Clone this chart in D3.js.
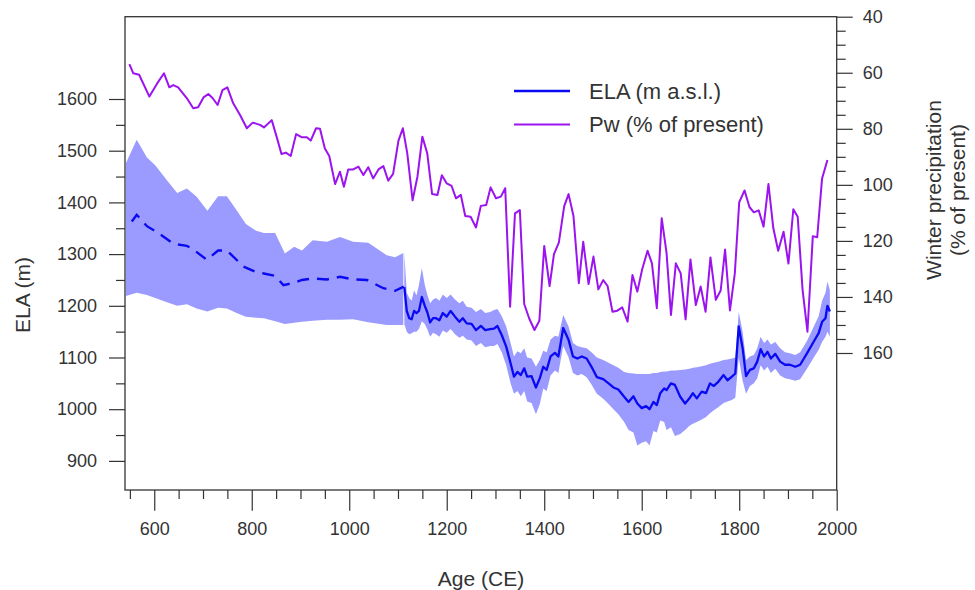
<!DOCTYPE html>
<html>
<head>
<meta charset="utf-8">
<script src="https://cdn.jsdelivr.net/npm/d3@7"></script>
<style>
  body { margin: 0; background: #fff; }
  svg { display: block; font-family: "Liberation Sans", Arial, sans-serif; }
  .axis path { display: none; }
  .axis line { stroke: #333; stroke-width: 1.2; }
  .axis text { fill: #333; font-size: 18px; }
  .title { fill: #333; font-size: 21px; }
  .legend text { fill: #333; font-size: 22px; }
</style>
</head>
<body>
<svg id="chart" width="975" height="590"></svg>
<script>
// Early reconstruction (dashed line + envelope), CE years and ELA in m
const earlyYears = [554, 564, 585, 605, 639, 667, 677, 708, 731, 749, 783, 807, 827, 848, 865, 885, 903, 926, 954, 981, 1008, 1036, 1070, 1094, 1112];
const earlyELA = [1363, 1376, 1354, 1343, 1320, 1316, 1311, 1289, 1307, 1307, 1276, 1266, 1262, 1258, 1240, 1244, 1250, 1253, 1251, 1256, 1251, 1250, 1234, 1229, 1237];

const earlyBandYears = [542, 564, 585, 602, 626, 647, 667, 687, 709, 731, 749, 769, 788, 809, 825, 848, 868, 887, 903, 925, 954, 981, 1008, 1039, 1077, 1094, 1111];
const earlyHi = [1476, 1521, 1487, 1472, 1443, 1418, 1427, 1411, 1384, 1412, 1412, 1385, 1358, 1345, 1341, 1341, 1301, 1314, 1307, 1327, 1324, 1333, 1324, 1322, 1298, 1294, 1302];
const earlyLo = [1219, 1225, 1221, 1215, 1207, 1200, 1203, 1195, 1189, 1196, 1195, 1186, 1179, 1177, 1176, 1170, 1165, 1167, 1169, 1171, 1173, 1173, 1174, 1168, 1163, 1163, 1163];

// Late reconstruction (solid line + envelope)
const lateYears = [1113, 1118, 1123, 1128, 1133, 1138, 1143, 1149, 1155, 1160, 1166, 1172, 1178, 1185, 1192, 1200, 1208, 1217, 1226, 1233,
  1241, 1251, 1260, 1270, 1279, 1289, 1297, 1304, 1313, 1322, 1331, 1338, 1345, 1352, 1359, 1365, 1374, 1383, 1391, 1398,
  1405, 1413, 1422, 1429, 1439, 1450, 1459, 1468, 1477, 1487, 1497, 1508, 1521, 1532, 1542, 1552, 1564, 1573, 1583, 1591,
  1600, 1609, 1616, 1624, 1631, 1638, 1646, 1651, 1660, 1668, 1679, 1689, 1698, 1705, 1713, 1723, 1732, 1740, 1748, 1757,
  1768, 1776, 1785, 1792, 1799, 1807, 1814, 1822, 1830, 1837, 1844, 1851, 1858, 1865, 1874, 1884, 1894, 1904, 1915, 1925,
  1939, 1953, 1963, 1970, 1977, 1981, 1986];
const lateELA = [1236, 1190, 1176, 1174, 1190, 1186, 1190, 1217, 1200, 1188, 1168, 1176, 1176, 1172, 1186, 1179, 1190, 1179, 1169, 1176,
  1166, 1165, 1153, 1161, 1153, 1155, 1156, 1161, 1143, 1121, 1089, 1063, 1072, 1066, 1079, 1063, 1064, 1042, 1060, 1082,
  1076, 1102, 1109, 1102, 1157, 1134, 1102, 1098, 1102, 1098, 1082, 1062, 1058, 1050, 1042, 1038, 1024, 1014, 1025, 1011,
  1002, 1006, 1000, 1014, 1008, 1031, 1040, 1037, 1050, 1047, 1024, 1011, 1021, 1031, 1021, 1034, 1031, 1050, 1045, 1053,
  1066, 1056, 1063, 1069, 1160, 1118, 1064, 1076, 1079, 1092, 1116, 1102, 1111, 1098, 1107, 1092, 1086, 1086, 1082, 1086,
  1108, 1131, 1147, 1169, 1176, 1200, 1189];
const lateHi = [1302, 1225, 1215, 1210, 1230, 1220, 1240, 1273, 1240, 1222, 1205, 1212, 1215, 1210, 1222, 1215, 1222, 1212, 1205, 1210,
  1198, 1196, 1188, 1194, 1186, 1188, 1192, 1194, 1180, 1160, 1128, 1102, 1112, 1108, 1118, 1100, 1098, 1082, 1095, 1113,
  1110, 1135, 1142, 1140, 1182, 1160, 1128, 1122, 1120, 1118, 1110, 1100, 1095, 1090, 1085, 1080, 1072, 1070, 1069, 1068,
  1068, 1068, 1068, 1070, 1070, 1072, 1073, 1073, 1075, 1075, 1076, 1077, 1078, 1080, 1081, 1083, 1085, 1088, 1090, 1092,
  1095, 1096, 1098, 1100, 1188, 1150, 1095, 1102, 1105, 1118, 1140, 1128, 1135, 1125, 1130, 1118, 1110, 1108, 1105, 1110,
  1132, 1160, 1180, 1210, 1225, 1247, 1230];
const lateLo = [1165, 1150, 1145, 1147, 1150, 1150, 1155, 1170, 1165, 1155, 1140, 1148, 1145, 1140, 1152, 1148, 1155, 1145, 1138, 1142,
  1135, 1133, 1122, 1128, 1120, 1122, 1122, 1126, 1110, 1085, 1050, 1030, 1035, 1025, 1035, 1015, 1012, 990, 1010, 1040,
  1035, 1065, 1075, 1070, 1122, 1100, 1070, 1065, 1068, 1062, 1048, 1030, 1020, 1010, 1000, 990, 975, 960, 955, 930,
  935, 938, 930, 958, 955, 978, 975, 960, 965, 948, 952, 960, 968, 972, 975, 980, 985, 992, 998, 1004,
  1012, 1015, 1018, 1022, 1100, 1055, 1030, 1045, 1050, 1060, 1085, 1075, 1082, 1070, 1078, 1065, 1060, 1058, 1055, 1058,
  1078, 1100, 1115, 1130, 1140, 1150, 1140];

// Winter precipitation, % of present
const pwYears = [549, 557, 569, 590, 606, 620, 631, 639, 649, 667, 680, 690, 701, 711, 720, 730, 740, 750, 762, 776,
  790, 802, 817, 825, 841, 851, 861, 870, 880, 891, 902, 913, 921, 932, 940, 950, 959, 971, 981, 989,
  998, 1008, 1019, 1029, 1039, 1049, 1060, 1070, 1080, 1090, 1101, 1110, 1119, 1130, 1140, 1150, 1160, 1170, 1181, 1190,
  1200, 1210, 1219, 1229, 1238, 1249, 1260, 1270, 1281, 1290, 1301, 1311, 1320, 1330, 1340, 1350, 1359, 1369, 1380, 1390,
  1400, 1411, 1420, 1430, 1441, 1450, 1460, 1471, 1480, 1491, 1501, 1511, 1521, 1530, 1540, 1550, 1560, 1571, 1581, 1591,
  1601, 1612, 1621, 1631, 1641, 1651, 1660, 1670, 1680, 1690, 1700, 1711, 1721, 1731, 1741, 1752, 1762, 1771, 1781, 1791,
  1800, 1811, 1821, 1830, 1840, 1850, 1860, 1870, 1880, 1891, 1901, 1911, 1920, 1930, 1940, 1951, 1960, 1970, 1981];
const pwValues = [56.9, 60.2, 60.7, 68.5, 63.8, 60.2, 65.2, 64.4, 65.2, 69.1, 72.7, 72.3, 68.8, 67.6, 69.1, 71.5, 66.2, 65.2, 70.9, 75.1,
  79.8, 77.8, 78.6, 79.5, 76.9, 82.8, 89, 88.5, 89.7, 81.9, 83, 83, 84.2, 79.8, 80, 87, 89.7, 99.7, 95.3, 100.7,
  94.5, 94.5, 93.5, 96.5, 93.7, 97.7, 94.5, 93.3, 98.5, 96.1, 84.2, 79.8, 88.7, 105.5, 97, 82.8, 88.7, 103.3, 103.6, 96.6,
  99.5, 100.4, 104.8, 103.6, 111.1, 111.4, 115.2, 107.5, 107.2, 100.9, 104.8, 104.2, 101.2, 143.5, 110.2, 109, 142.5, 147.6, 151.8, 148.5,
  121.8, 136.1, 124.7, 120.6, 107.6, 103.3, 111.1, 135.1, 120.3, 135.4, 125.6, 137.3, 134, 136.1, 145.3, 144.9, 143.7, 148.8, 132.2, 138.1,
  130.1, 123.5, 128, 144, 111.9, 124.4, 146.4, 128, 131.6, 148, 126.6, 142.9, 136.3, 145.3, 125.9, 141, 137.7, 123.1, 144.8, 131.6,
  106.2, 102, 107.9, 109.8, 109.1, 114.9, 99.7, 115.5, 123.5, 116.7, 128.1, 108.7, 111.4, 137.5, 152.4, 118.3, 118.7, 97.7, 91.1];

// Axis ticks
const xMajor = [600, 800, 1000, 1200, 1400, 1600, 1800, 2000];
const elaMajor = [900, 1000, 1100, 1200, 1300, 1400, 1500, 1600];
const pwMajor = [40, 60, 80, 100, 120, 140, 160];

(function () {
  const svg = d3.select('#chart');
  const x0 = 125, x1 = 836.7, y0 = 16.7, y1 = 490;

  const x = d3.scaleLinear().domain([540, 2000]).range([x0, x1]);
  const yEla = d3.scaleLinear().domain([843.7, 1759.2]).range([y1, y0]);
  const yPw = d3.scaleLinear().domain([40, 160]).range([y0, 353]);

  const blue = '#0a0af2';
  const band = '#9b9bff';
  const purple = '#9b14f0';

  // Envelopes
  const early = earlyBandYears.map((yr, i) => ({ yr, lo: earlyLo[i], hi: earlyHi[i] }));
  const late = lateYears.map((yr, i) => ({ yr, lo: lateLo[i], hi: lateHi[i], v: lateELA[i] }));
  const area = d3.area().x((d) => x(d.yr)).y0((d) => yEla(d.lo)).y1((d) => yEla(d.hi));
  svg.append('path').attr('d', area(early)).attr('fill', band);
  svg.append('path').attr('d', area(late)).attr('fill', band);

  // ELA lines
  svg.append('path')
    .attr('d', d3.line().x((d) => x(d[0])).y((d) => yEla(d[1]))(earlyYears.map((yr, i) => [yr, earlyELA[i]])))
    .attr('fill', 'none').attr('stroke', blue).attr('stroke-width', 2.4)
    .attr('stroke-dasharray', '12,8');
  svg.append('path')
    .attr('d', d3.line().x((d) => x(d.yr)).y((d) => yEla(d.v))(late))
    .attr('fill', 'none').attr('stroke', blue).attr('stroke-width', 2.3)
    .attr('stroke-linejoin', 'round');

  // Pw line
  svg.append('path')
    .attr('d', d3.line().x((d) => x(d[0])).y((d) => yPw(d[1]))(pwYears.map((yr, i) => [yr, pwValues[i]])))
    .attr('fill', 'none').attr('stroke', purple).attr('stroke-width', 2)
    .attr('stroke-linejoin', 'round');

  // Frame
  svg.append('rect')
    .attr('x', x0).attr('y', y0).attr('width', x1 - x0).attr('height', y1 - y0)
    .attr('fill', 'none').attr('stroke', '#333').attr('stroke-width', 1.3);

  // Axes: major with labels, minor without
  const minorX = d3.range(550, 2000, 50).filter((v) => v % 200 !== 0);
  const minorEla = d3.range(950, 1600, 100);
  const minorPw = d3.range(45, 160, 5).filter((v) => v % 20 !== 0);

  svg.append('g').attr('class', 'axis').attr('transform', `translate(0,${y1})`)
    .call(d3.axisBottom(x).tickValues(xMajor).tickSize(20.7).tickPadding(12).tickFormat(d3.format('d')));
  svg.append('g').attr('class', 'axis').attr('transform', `translate(0,${y1})`)
    .call(d3.axisBottom(x).tickValues(minorX).tickSize(9).tickFormat(''));

  svg.append('g').attr('class', 'axis').attr('transform', `translate(${x0},0)`)
    .call(d3.axisLeft(yEla).tickValues(elaMajor).tickSize(16).tickPadding(12).tickFormat(d3.format('d')));
  svg.append('g').attr('class', 'axis').attr('transform', `translate(${x0},0)`)
    .call(d3.axisLeft(yEla).tickValues(minorEla).tickSize(9).tickFormat(''));

  svg.append('g').attr('class', 'axis').attr('transform', `translate(${x1},0)`)
    .call(d3.axisRight(yPw).tickValues(pwMajor).tickSize(16).tickPadding(10).tickFormat(d3.format('d')));
  svg.append('g').attr('class', 'axis').attr('transform', `translate(${x1},0)`)
    .call(d3.axisRight(yPw).tickValues(minorPw).tickSize(9).tickFormat(''));

  // Titles
  svg.append('text').attr('class', 'title')
    .attr('transform', 'translate(22,295) rotate(-90)')
    .attr('text-anchor', 'middle').attr('dominant-baseline', 'central').text('ELA (m)');
  svg.append('text').attr('class', 'title')
    .attr('x', 481).attr('y', 578)
    .attr('text-anchor', 'middle').attr('dominant-baseline', 'central').text('Age (CE)');
  svg.append('text').attr('class', 'title')
    .attr('transform', 'translate(933,190) rotate(-90)')
    .attr('text-anchor', 'middle').attr('dominant-baseline', 'central').text('Winter precipitation');
  svg.append('text').attr('class', 'title')
    .attr('transform', 'translate(957,190) rotate(-90)')
    .attr('text-anchor', 'middle').attr('dominant-baseline', 'central').text('(% of present)');

  // Legend
  const legend = [
    { label: 'ELA (m a.s.l.)', color: blue, y: 91 },
    { label: 'Pw (% of present)', color: purple, y: 124.5 }
  ];
  const lg = svg.append('g').attr('class', 'legend').selectAll('g').data(legend).join('g');
  lg.append('line')
    .attr('x1', 514).attr('x2', 570).attr('y1', (d) => d.y).attr('y2', (d) => d.y)
    .attr('stroke', (d) => d.color).attr('stroke-width', (d) => (d.color === blue ? 2.4 : 2));
  lg.append('text')
    .attr('x', 589).attr('y', (d) => d.y).attr('dominant-baseline', 'central')
    .text((d) => d.label);
})();
</script>
</body>
</html>
